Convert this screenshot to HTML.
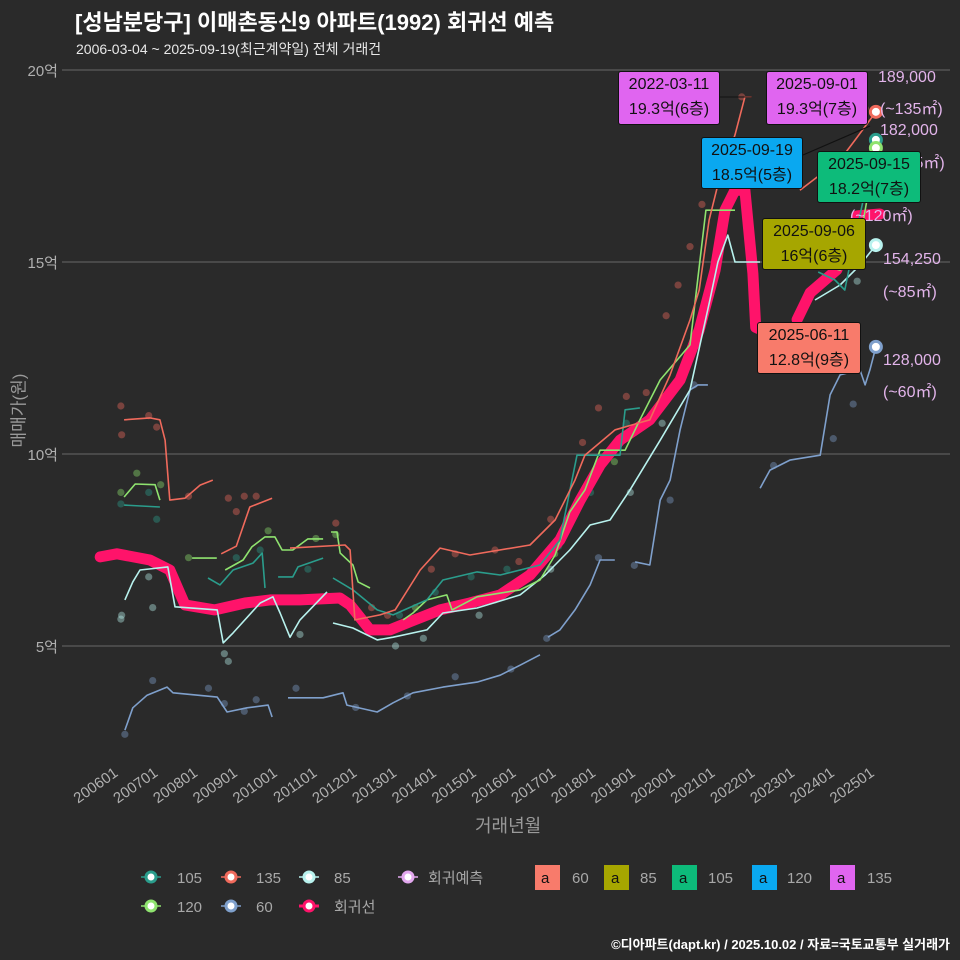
<!DOCTYPE html>
<html><head><meta charset="utf-8">
<style>
html,body{margin:0;padding:0;background:#2a2a2a;}
#wrap{position:relative;width:960px;height:960px;background:#2a2a2a;overflow:hidden;font-family:"Liberation Sans","Noto Sans CJK KR",sans-serif;}
svg text{font-family:"Liberation Sans","Noto Sans CJK KR",sans-serif;}
</style></head>
<body>
<div id="wrap">
<svg id="chart" width="960" height="960" xmlns="http://www.w3.org/2000/svg"></svg>
</div>
<script>
// ---- data (x = fractional year, y = price in 억) ----
const yTicks = [5, 10, 15, 20];
const yTickLabels = ["5억", "10억", "15억", "20억"];
const xTickYears = [2006,2007,2008,2009,2010,2011,2012,2013,2014,2015,2016,2017,2018,2019,2020,2021,2022,2023,2024,2025];
const xTickLabels = ["200601","200701","200801","200901","201001","201101","201201","201301","201401","201501","201601","201701","201801","201901","202001","202101","202201","202301","202401","202501"];

const line135 = [[2006.68,10.89],[2007.33,10.94],[2007.58,10.89],[2007.71,10.36],[2007.83,8.8],[2008.21,8.85],[2008.59,9.19],[2008.91,9.32],null,
 [2009.12,7.4],[2009.5,7.6],[2009.84,8.62],[2010.4,8.85],null,
 [2010.85,7.55],[2012.23,7.63],[2012.36,7.5],[2012.48,5.68],[2013.11,5.81],[2013.49,5.94],[2014.12,6.98],[2014.62,7.55],[2015.37,7.37],[2016.88,7.63],[2017.51,8.28],[2018.01,9.32],[2018.26,9.97],[2019.02,10.63],[2019.89,10.89],[2020.4,12.06],[2020.9,13.49],[2021.13,14.27],[2021.38,16.09],[2021.63,17.14],[2022.03,18.31],[2022.28,19.3],[2022.45,19.3],null,
 [2023.66,16.87],[2024.17,17.27],[2024.67,17.66],[2025.05,18.18],[2025.57,18.91]];
const line105 = [[2006.68,8.67],[2007.58,8.62],null,
 [2008.79,6.77],[2009.09,6.59],[2009.42,6.98],[2009.92,7.16],[2010.15,7.42],[2010.22,6.51],null,
 [2010.55,6.8],[2010.92,6.8],[2011.05,7.06],[2011.68,7.29],null,
 [2011.93,6.77],[2012.43,6.46],[2013.04,5.94],[2013.44,5.81],[2014.29,6.2],[2014.69,6.72],[2015.55,6.93],[2016.13,6.85],[2017.13,7.11],[2017.63,7.76],[2018.06,9.97],[2019.14,9.97],[2019.27,11.15],[2019.64,11.2],null,
 [2024.12,14.74],[2024.54,14.53],[2024.79,14.27],[2025.17,16.22],[2025.57,18.18]];
const line120 = [[2006.68,8.88],[2006.96,9.22],[2007.46,9.2],[2007.58,8.8],null,
 [2008.39,7.29],[2009.01,7.29],null,
 [2009.22,6.98],[2009.67,7.24],[2009.89,7.58],[2010.22,7.84],[2010.47,7.84],[2010.65,7.5],[2010.92,7.5],[2011.3,7.79],[2011.68,7.79],null,
 [2011.88,7.97],[2012.03,7.97],[2012.11,7.42],[2012.43,7.11],[2012.56,6.67],[2012.86,6.51],null,
 [2013.69,5.68],[2013.94,5.86],[2014.29,6.2],[2014.79,6.33],[2014.92,5.94],[2015.55,6.28],[2016.63,6.46],[2017.13,6.72],[2017.51,7.37],[2017.88,8.49],[2018.26,9.06],[2018.64,10.1],[2019.27,10.1],[2019.64,10.89],[2020.15,11.93],[2020.9,12.84],[2021.3,16.35],[2022.03,16.35],null,
 [2023.91,15.0],[2024.67,14.79],[2025.17,15.57],[2025.57,17.97]];
const line85 = [[2006.7,6.2],[2006.9,6.67],[2007.08,6.98],[2007.78,7.06],[2007.96,6.02],[2009.02,5.94],[2009.17,5.08],[2009.42,5.34],[2010.1,6.12],[2010.42,6.28],[2010.6,5.86],[2010.85,5.23],[2011.1,5.68],[2011.78,6.41],null,
 [2011.93,5.6],[2012.43,5.47],[2013.04,5.16],[2013.44,5.23],[2014.29,5.42],[2014.69,5.86],[2015.55,5.99],[2016.63,6.33],[2017.26,6.85],[2017.88,7.5],[2018.39,8.15],[2018.89,8.28],[2019.39,9.06],[2020.15,10.36],[2020.9,11.67],[2021.4,14.01],[2021.6,15.0],[2021.85,15.7],[2022.03,15.0],[2022.66,15.0],null,
 [2024.04,14.01],[2024.67,14.4],[2025.17,14.92],[2025.57,15.44]];
const line60 = [[2006.7,2.81],[2006.9,3.39],[2007.26,3.72],[2007.76,3.93],[2007.91,3.78],[2009.02,3.67],[2009.27,3.28],[2009.77,3.39],[2010.3,3.46],[2010.4,3.15],null,
 [2010.8,3.65],[2011.68,3.65],[2012.18,3.78],[2012.28,3.46],[2013.04,3.28],[2013.44,3.52],[2013.94,3.78],[2014.69,3.93],[2015.55,4.06],[2016.13,4.24],[2016.63,4.5],[2017.13,4.77],null,
 [2017.33,5.23],[2017.63,5.42],[2018.01,5.94],[2018.39,6.59],[2018.64,7.24],[2019.01,7.24],null,
 [2019.52,7.19],[2019.89,7.11],[2020.15,8.8],[2020.4,9.32],[2020.65,10.63],[2020.9,11.67],[2021.1,11.8],[2021.35,11.8],null,
 [2022.66,9.11],[2022.91,9.58],[2023.41,9.84],[2024.17,9.97],[2024.42,11.54],[2024.67,12.06],[2025.17,12.19],[2025.3,11.8],[2025.42,12.19],[2025.57,12.79]];
const regLine = [[2006.08,7.32],[2006.5,7.4],[2007.33,7.24],[2007.83,6.98],[2008.21,6.07],[2008.96,5.94],[2009.72,6.12],[2010.35,6.2],[2011.1,6.2],[2012.1,6.25],[2012.36,6.07],[2012.86,5.42],[2013.36,5.42],[2013.86,5.63],[2014.62,5.94],[2015.37,6.12],[2016.13,6.33],[2016.88,6.85],[2017.63,7.76],[2018.14,8.8],[2018.64,9.71],[2019.14,10.36],[2019.89,10.89],[2020.65,11.93],[2021.13,13.23],[2021.53,14.79],[2021.78,16.35],[2022.03,16.87],[2022.28,16.87],[2022.48,14.7],[2022.55,13.3],[2022.7,13.23],null,
 [2023.59,13.5],[2023.92,14.2],[2024.59,14.8],[2025.1,16.2],[2025.67,16.25]];

const pts135 = [[2006.6,11.25],[2006.62,10.5],[2007.3,11.0],[2007.5,10.7],[2008.3,8.9],[2009.3,8.85],[2009.5,8.5],[2009.7,8.9],[2010.0,8.9],[2012.0,8.2],[2012.9,6.0],[2013.3,5.8],[2014.4,7.0],[2015.0,7.4],[2016.0,7.5],[2016.6,7.2],[2017.4,8.3],[2018.2,10.3],[2018.6,11.2],[2019.3,11.5],[2019.8,11.6],[2020.3,13.6],[2020.6,14.4],[2020.9,15.4],[2021.2,16.5],[2022.2,19.3],[2024.7,17.7],[2025.3,19.0]];
const pts105 = [[2006.6,8.7],[2007.3,9.0],[2007.5,8.3],[2009.5,7.3],[2010.1,7.5],[2011.3,7.0],[2013.6,5.8],[2014.5,6.4],[2015.4,6.8],[2016.3,7.0],[2017.6,7.6],[2018.4,9.0],[2019.3,10.8],[2024.2,14.5]];
const pts120 = [[2006.6,9.0],[2007.0,9.5],[2007.6,9.2],[2008.3,7.3],[2010.3,8.0],[2011.5,7.8],[2012.0,7.9],[2014.0,6.0],[2016.0,6.2],[2017.5,7.4],[2019.0,9.8],[2024.5,15.2]];
const pts85 = [[2006.6,5.7],[2006.62,5.8],[2007.3,6.8],[2007.4,6.0],[2009.2,4.8],[2009.3,4.6],[2011.1,5.3],[2012.9,5.4],[2013.5,5.0],[2014.2,5.2],[2015.6,5.8],[2017.4,7.0],[2019.4,9.0],[2020.2,10.8],[2024.0,13.3],[2025.1,14.5]];
const pts60 = [[2006.7,2.7],[2007.4,4.1],[2008.8,3.9],[2009.2,3.5],[2009.7,3.3],[2010.0,3.6],[2011.0,3.9],[2012.5,3.4],[2013.8,3.7],[2015.0,4.2],[2016.4,4.4],[2017.3,5.2],[2018.6,7.3],[2019.5,7.1],[2020.4,8.8],[2021.0,11.8],[2023.0,9.7],[2024.5,10.4],[2025.0,11.3]];

const endYears = [2025.57, 2025.57, 2025.57, 2025.57, 2025.57];
const endValues = [18.91, 18.18, 17.97, 15.44, 12.79];

// ---- scales ----
function X(t){ return 97 + (t - 2006) * 39.8; }
function Y(v){ return 70 + (20 - v) * 38.4; }

const NS = "http://www.w3.org/2000/svg";
const svg = document.getElementById('chart');
function mk(tag, attrs, parent){
  const e = document.createElementNS(NS, tag);
  for (const k in attrs) e.setAttribute(k, attrs[k]);
  (parent || svg).appendChild(e);
  return e;
}
function pathD(arr){
  let d = "", pen = false;
  for (const p of arr){
    if (!p){ pen = false; continue; }
    d += (pen ? "L" : "M") + X(p[0]).toFixed(1) + "," + Y(p[1]).toFixed(1);
    pen = true;
  }
  return d;
}

// gridlines
yTicks.forEach((v, i) => {
  const g = mk('line', {x1:62, x2:950, y1:Y(v), y2:Y(v), stroke:'#5c5c5c', 'stroke-width':1.2});
  
  
  const t = mk('text', {x:58, y:Y(v)+6, 'text-anchor':'end', fill:'#b0b0b0', 'font-size':15});
  t.textContent = yTickLabels[i];
  
  
});
xTickYears.forEach((yr, i) => {
  const t = mk('text', {x:0, y:0, 'text-anchor':'end', fill:'#b0b0b0', 'font-size':15,
    transform:'translate(' + (X(yr)+22) + ',775) rotate(-35)'});
  t.textContent = xTickLabels[i];
  
  
});

// scatter
const scatterSets = [[pts135,'#f06a5c'],[pts105,'#2a9d8c'],[pts120,'#8fe36f'],[pts85,'#b8f2ee'],[pts60,'#7fa0cc']];
scatterSets.forEach(s => {
  s[0].forEach(p => {
    const c = mk('circle', {cx:X(p[0]), cy:Y(p[1]), r:3.6, fill:s[1], 'fill-opacity':0.4});
    
    
  });
});

// regression line
const rl = mk('path', {d:pathD(regLine), fill:'none', stroke:'#ff136a', 'stroke-width':11, 'stroke-linejoin':'round', 'stroke-linecap':'round'});



// series lines
const lineSets = [[line60,'#7fa0cc','line-60'],[line85,'#b8f2ee','line-85'],[line120,'#8fe36f','line-120'],[line105,'#2a9d8c','line-105'],[line135,'#f06a5c','line-135']];
lineSets.forEach(s => {
  const p = mk('path', {d:pathD(s[0]), fill:'none', stroke:s[1], 'stroke-width':1.6, 'stroke-linejoin':'round'});
  
  
});

// end markers
const endColors = ['#f06a5c','#2a9d8c','#8fe36f','#b8f2ee','#7fa0cc'];
endValues.forEach((v, i) => {
  const c = mk('circle', {cx:X(endYears[i]), cy:Y(v), r:5.5, fill:'#ffffff', stroke:endColors[i], 'stroke-width':3});
  
  
});

// leader lines
mk('line', {x1:720, y1:97, x2:752, y2:97, stroke:'#111', 'stroke-width':1});
mk('line', {x1:803, y1:155, x2:870, y2:126, stroke:'#111', 'stroke-width':1.2});
</script>

<!-- static overlay text -->
<div style="position:absolute;left:75px;top:5px;color:#fff;font-size:22px;font-weight:bold;font-family:'Liberation Sans','Noto Sans CJK KR',sans-serif;">[성남분당구] 이매촌동신9 아파트(1992) 회귀선 예측</div>
<div style="position:absolute;left:76px;top:39px;color:#e8e8e8;font-size:14px;font-family:'Liberation Sans','Noto Sans CJK KR',sans-serif;">2006-03-04 ~ 2025-09-19(최근계약일) 전체 거래건</div>
<div style="position:absolute;left:-28px;top:398px;width:90px;text-align:center;transform:rotate(-90deg);color:#9a9a9a;font-size:17px;font-family:'Liberation Sans','Noto Sans CJK KR',sans-serif;">매매가(원)</div>
<div style="position:absolute;left:475px;top:812px;color:#9a9a9a;font-size:18px;font-family:'Liberation Sans','Noto Sans CJK KR',sans-serif;">거래년월</div>

<div style="font-family:'Liberation Sans','Noto Sans CJK KR',sans-serif;font-size:16px;color:#e2b4ea;">
<div style="position:absolute;left:878px;top:69px;">189,000</div>
<div style="position:absolute;left:880px;top:95px;">(~135㎡)</div>
<div style="position:absolute;left:880px;top:122px;">182,000</div>
<div style="position:absolute;left:882px;top:149px;">(~105㎡)</div>
<div style="position:absolute;left:850px;top:202px;">(~120㎡)</div>
<div style="position:absolute;left:883px;top:251px;">154,250</div>
<div style="position:absolute;left:883px;top:278px;">(~85㎡)</div>
<div style="position:absolute;left:883px;top:352px;">128,000</div>
<div style="position:absolute;left:883px;top:378px;">(~60㎡)</div>
</div>

<div style="font-family:'Liberation Sans','Noto Sans CJK KR',sans-serif;font-size:16px;color:#111;text-align:center;line-height:25px;">
<div style="position:absolute;left:618px;top:71px;width:100px;height:52px;background:#e065f0;border:1px solid #111;border-radius:3px;">2022-03-11<br>19.3억(6층)</div>
<div style="position:absolute;left:766px;top:71px;width:100px;height:52px;background:#e065f0;border:1px solid #111;border-radius:3px;">2025-09-01<br>19.3억(7층)</div>
<div style="position:absolute;left:701px;top:137px;width:100px;height:50px;background:#0aa8f0;border:1px solid #111;border-radius:3px;">2025-09-19<br>18.5억(5층)</div>
<div style="position:absolute;left:817px;top:151px;width:102px;height:50px;background:#0dbb7a;border:1px solid #111;border-radius:3px;">2025-09-15<br>18.2억(7층)</div>
<div style="position:absolute;left:762px;top:218px;width:102px;height:50px;background:#a6a600;border:1px solid #111;border-radius:3px;">2025-09-06<br>16억(6층)</div>
<div style="position:absolute;left:757px;top:322px;width:102px;height:50px;background:#f87b6b;border:1px solid #111;border-radius:3px;">2025-06-11<br>12.8억(9층)</div>
</div>

<svg width="960" height="960" style="position:absolute;left:0;top:0;">
<g font-size="15" fill="#a8a8a8" font-family="Liberation Sans, Noto Sans CJK KR, sans-serif">
<g><line x1="141" x2="161" y1="877" y2="877" stroke="#2a9d8c" stroke-width="1.6"/><circle cx="151" cy="877" r="5" fill="#fff" stroke="#2a9d8c" stroke-width="3"/><text x="177" y="883">105</text></g>
<g><line x1="221" x2="241" y1="877" y2="877" stroke="#f06a5c" stroke-width="1.6"/><circle cx="231" cy="877" r="5" fill="#fff" stroke="#f06a5c" stroke-width="3"/><text x="256" y="883">135</text></g>
<g><line x1="299" x2="319" y1="877" y2="877" stroke="#b8f2ee" stroke-width="1.6"/><circle cx="309" cy="877" r="5" fill="#fff" stroke="#b8f2ee" stroke-width="3"/><text x="334" y="883">85</text></g>
<g><line x1="398" x2="418" y1="877" y2="877" stroke="#e2a8ee" stroke-width="1.6"/><circle cx="408" cy="877" r="5" fill="#fff" stroke="#e2a8ee" stroke-width="3"/><text x="428" y="883">회귀예측</text></g>
<g><line x1="141" x2="161" y1="906" y2="906" stroke="#8fe36f" stroke-width="1.6"/><circle cx="151" cy="906" r="5" fill="#fff" stroke="#8fe36f" stroke-width="3"/><text x="177" y="912">120</text></g>
<g><line x1="221" x2="241" y1="906" y2="906" stroke="#7fa0cc" stroke-width="1.6"/><circle cx="231" cy="906" r="5" fill="#fff" stroke="#7fa0cc" stroke-width="3"/><text x="256" y="912">60</text></g>
<g><line x1="299" x2="319" y1="906" y2="906" stroke="#ff136a" stroke-width="3"/><circle cx="309" cy="906" r="5" fill="#fff" stroke="#ff136a" stroke-width="3"/><text x="334" y="912">회귀선</text></g>
<g><rect x="535" y="865" width="25" height="25" fill="#f87b6b"/><text x="541" y="883" fill="#111">a</text><text x="572" y="883">60</text></g>
<g><rect x="604" y="865" width="25" height="25" fill="#a6a600"/><text x="611" y="883" fill="#111">a</text><text x="640" y="883">85</text></g>
<g><rect x="672" y="865" width="25" height="25" fill="#0dbb7a"/><text x="679" y="883" fill="#111">a</text><text x="708" y="883">105</text></g>
<g><rect x="752" y="865" width="25" height="25" fill="#0aa8f0"/><text x="759" y="883" fill="#111">a</text><text x="787" y="883">120</text></g>
<g><rect x="830" y="865" width="25" height="25" fill="#e065f0"/><text x="837" y="883" fill="#111">a</text><text x="867" y="883">135</text></g>
</g>
</svg>

<div style="position:absolute;right:10px;top:934px;color:#fff;font-size:13px;font-weight:bold;font-family:'Liberation Sans','Noto Sans CJK KR',sans-serif;">©디아파트(dapt.kr) / 2025.10.02 / 자료=국토교통부 실거래가</div>
</body></html>
